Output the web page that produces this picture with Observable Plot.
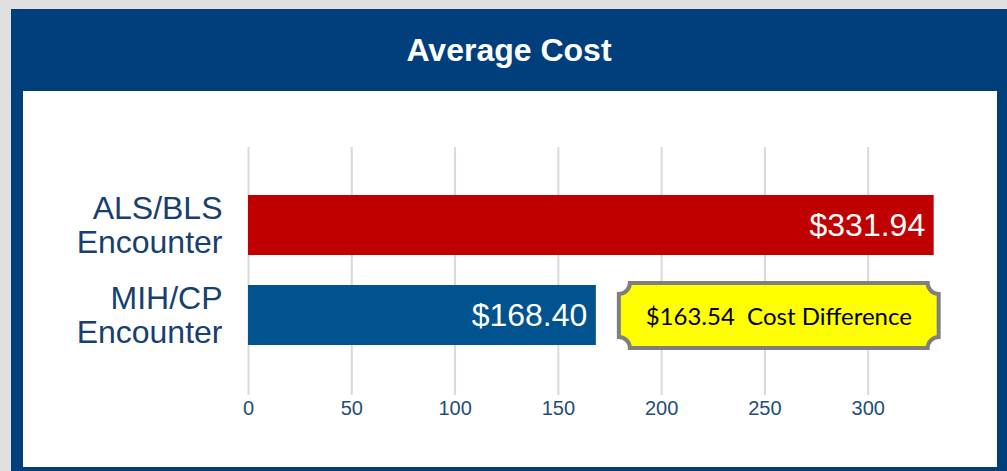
<!DOCTYPE html>
<html>
<head>
<meta charset="utf-8">
<script src="https://cdn.jsdelivr.net/npm/d3@7"></script>
<script src="https://cdn.jsdelivr.net/npm/@observablehq/plot@0.6"></script>
<style>
  html, body { margin: 0; padding: 0; background: #e0e0e0; width: 1007px; height: 471px; overflow: hidden; }
  #frame { position: absolute; left: 11px; top: 9px; width: 1010px; height: 470px; background: #013f7c; }
  #title { position: absolute; left: 11px; top: 9px; width: 996px; height: 82px; text-align: center;
           color: white; font: bold 32px "Liberation Sans", Arial, sans-serif; line-height: 82px; }
  #panel { position: absolute; left: 23px; top: 91px; width: 974px; height: 376px; background: white; }
</style>
</head>
<body>
<div id="frame"></div>
<div id="title">Average Cost</div>
<div id="panel"></div>
<script>
const categories = ["ALS/BLS Encounter", "MIH/CP Encounter"];
const costs = [331.94, 168.40];
const valueLabels = ["$331.94", "$168.40"];
const barColors = ["#c00000", "#00538f"];
const tickValues = [0, 50, 100, 150, 200, 250, 300];
const calloutText = "Cost Difference";

const data = categories.map((c, i) => ({category: c, cost: costs[i], label: valueLabels[i]}));

const plot = Plot.plot({
  width: 974,
  height: 376,
  marginLeft: 225,
  marginRight: 57,
  marginTop: 56,
  marginBottom: 72,
  style: {fontFamily: "'Liberation Sans', Arial, sans-serif", background: "white", overflow: "visible"},
  x: {domain: [0, 335], ticks: tickValues},
  y: {domain: categories, padding: 1/3, insetTop: 18, insetBottom: 20},
  color: {domain: categories, range: barColors},
  marks: [
    Plot.gridX(tickValues, {stroke: "#d9d9d9", strokeOpacity: 1, strokeWidth: 2}),
    Plot.barX(data, {x: "cost", y: "category", fill: "category"}),
    Plot.text(data, {x: "cost", y: "category", text: "label", textAnchor: "end", dx: -9, fill: "white", fontSize: 32}),
    Plot.axisX(tickValues, {tickSize: 0, tickPadding: 5, fontSize: 20, fill: "#1f4e79", label: null}),
    Plot.axisY({tickSize: 0, tickPadding: 26, fontSize: 32, fill: "#17406e", lineHeight: 1.05,
                tickFormat: d => d.replace(" ", "\n"), label: null})
  ]
});
document.getElementById("panel").appendChild(plot);

// callout box, positioned through the plot's own scales
const xs = plot.scale("x"), ys = plot.scale("y");
const x1 = xs.apply(costs[1]) + 23;
const x2 = xs.apply(costs[0]) + 5;
const y1 = ys.apply(categories[1]) - 2;
const y2 = ys.apply(categories[1]) + ys.bandwidth + 3;
const r = 11;
const path = `M${x1 + r},${y1} L${x2 - r},${y1} A${r},${r} 0 0 0 ${x2},${y1 + r} L${x2},${y2 - r} A${r},${r} 0 0 0 ${x2 - r},${y2} L${x1 + r},${y2} A${r},${r} 0 0 0 ${x1},${y2 - r} L${x1},${y1 + r} A${r},${r} 0 0 0 ${x1 + r},${y1} Z`;
const svg = d3.select(plot);
svg.append("path").attr("d", path).attr("fill", "#ffff00").attr("stroke", "#7f7f7f").attr("stroke-width", 4);
svg.append("text")
  .attr("x", (x1 + x2) / 2).attr("y", (y1 + y2) / 2)
  .attr("text-anchor", "middle").attr("dominant-baseline", "central")
  .attr("font-family", "Lato, 'Liberation Sans', sans-serif").attr("font-size", 24).attr("fill", "black")
  .style("white-space", "pre")
  .text("$" + (costs[0] - costs[1]).toFixed(2) + "  " + calloutText);
</script>
</body>
</html>
